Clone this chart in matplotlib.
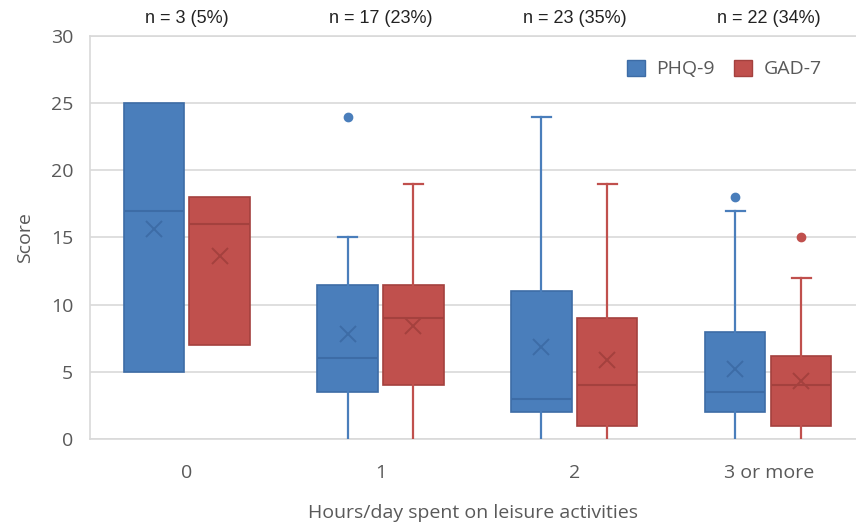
import numpy as np
import matplotlib.pyplot as plt
from matplotlib.patches import Patch

# categories and group sizes
groups = ['0', '1', '2', '3 or more']
n_labels = ['n = 3 (5%)', 'n = 17 (23%)', 'n = 23 (35%)', 'n = 22 (34%)']

# PHQ-9 box stats per group
phq_low = [5, 0, 0, 0]
phq_q1 = [5, 3.5, 2, 2]
phq_med = [17, 6, 3, 3.5]
phq_q3 = [25, 11.5, 11, 8]
phq_high = [25, 15, 24, 17]
phq_mean = [15.6, 7.8, 6.85, 5.2]
phq_out = [[], [24], [], [18]]

# GAD-7 box stats per group
gad_low = [7, 0, 0, 0]
gad_q1 = [7, 4, 1, 1]
gad_med = [16, 9, 4, 4]
gad_q3 = [18, 11.5, 9, 6.2]
gad_high = [18, 19, 19, 12]
gad_mean = [13.6, 8.4, 5.9, 4.35]
gad_out = [[], [], [], [15]]

blue, blue_dk = '#4a7ebb', '#3d6ca6'
red, red_dk = '#c0504d', '#a4413e'
grey = '#595959'


def stats(low, q1, med, q3, high, mean, out):
    return [dict(whislo=low[i], q1=q1[i], med=med[i], q3=q3[i], whishi=high[i],
                 mean=mean[i], fliers=out[i]) for i in range(len(low))]


fig = plt.figure(figsize=(8.56, 5.25), dpi=100)
ax = fig.add_axes([90/856, 1-439/525, 1-90/856, 403/525])

x = np.arange(len(groups))
width = 0.31
for st, off, col, dk in [(stats(phq_low, phq_q1, phq_med, phq_q3, phq_high, phq_mean, phq_out), -0.172, blue, blue_dk),
                         (stats(gad_low, gad_q1, gad_med, gad_q3, gad_high, gad_mean, gad_out), 0.168, red, red_dk)]:
    bp = ax.bxp(st, positions=x + off, widths=width, patch_artist=True, showmeans=True,
                boxprops=dict(facecolor=col, edgecolor=dk, linewidth=1.2),
                medianprops=dict(color=dk, linewidth=1.5),
                whiskerprops=dict(color=col, linewidth=1.6),
                capprops=dict(color=col, linewidth=1.6),
                capwidths=0.1,
                meanprops=dict(marker='x', markeredgecolor=dk, markersize=11, markeredgewidth=1.4),
                flierprops=dict(marker='o', markerfacecolor=col, markeredgecolor=col, markersize=6),
                manage_ticks=False, zorder=3)
    # Excel style: no cap at the bottom, none where the whisker is empty
    for i, s in enumerate(st):
        bp['caps'][2*i].set_visible(False)
        if s['whishi'] == s['q3']:
            bp['caps'][2*i+1].set_visible(False)

ax.set_xlim(-0.5, 3.45)
ax.set_ylim(0, 30)
ax.set_yticks(range(0, 31, 5))
ax.set_xticks(x)
ax.set_xticklabels(groups)
ax.yaxis.grid(True, color='#d9d9d9', linewidth=1.2)
ax.set_axisbelow(True)
for s in ['left', 'top', 'bottom']:
    ax.spines[s].set_color('#d9d9d9')
    ax.spines[s].set_linewidth(1.2)
ax.spines['right'].set_visible(False)
ax.tick_params(length=0, labelsize=14, labelcolor=grey, pad=12)
ax.tick_params(axis='x', pad=18)
for lab in ax.get_xticklabels() + ax.get_yticklabels():
    lab.set_family('Open Sans')

ax.set_ylabel('Score', fontsize=14, color=grey, family='Open Sans', labelpad=12)
ax.set_xlabel('Hours/day spent on leisure activities', fontsize=14, color=grey,
              family='Open Sans', labelpad=16)

for xi, t in zip(x, n_labels):
    ax.text(xi, 30.7, t, ha='center', va='bottom', fontsize=13, color='#222222',
            family='Liberation Sans')

handles = [Patch(facecolor=blue, edgecolor=blue_dk), Patch(facecolor=red, edgecolor=red_dk)]
leg = ax.legend(handles, ['PHQ-9', 'GAD-7'], loc='upper right', bbox_to_anchor=(0.978, 0.985),
                ncol=2, frameon=False, handlelength=0.9, handleheight=0.9, columnspacing=1.0,
                handletextpad=0.6, prop=dict(family='Open Sans', size=14))
for t in leg.get_texts():
    t.set_color(grey)

fig.savefig('out.png', dpi=100)
